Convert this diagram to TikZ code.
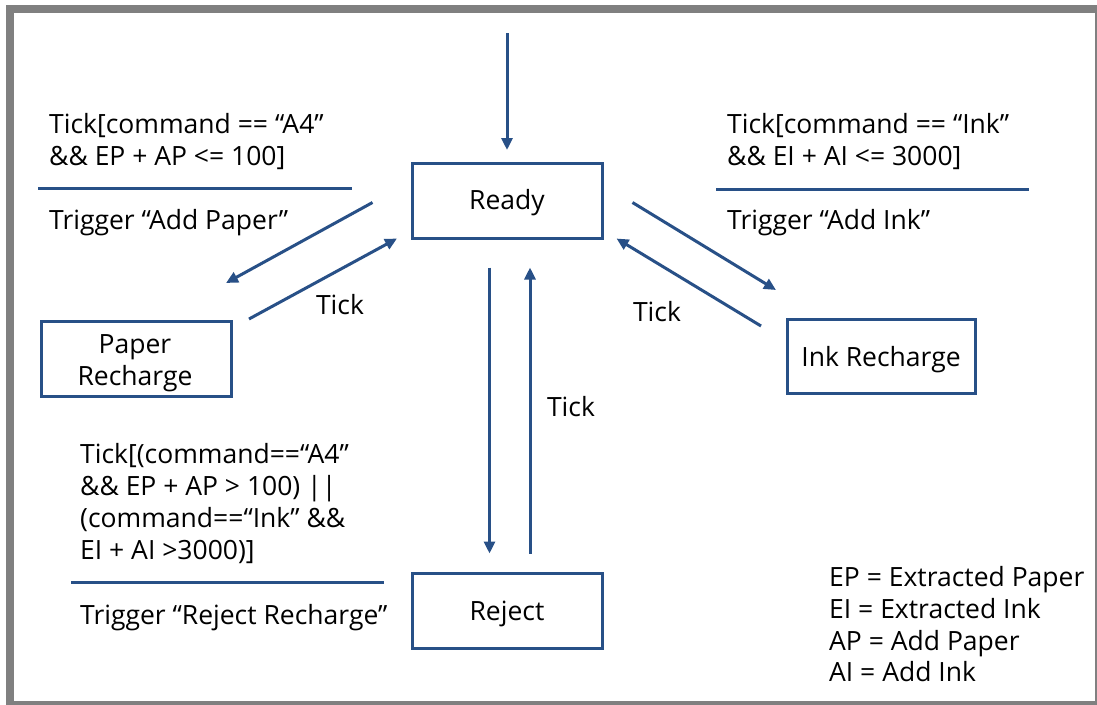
\documentclass[tikz,border=0pt]{standalone}
\usepackage{fontspec}
\setmainfont{Open Sans}
\usetikzlibrary{arrows.meta}
\definecolor{lineblue}{RGB}{40,80,135}
\definecolor{framegray}{RGB}{128,128,128}
\begin{document}
\begin{tikzpicture}[x=1pt,y=-1pt,
  every node/.style={font=\fontsize{26.5}{32}\selectfont},
  txt/.style={anchor=base west, inner sep=0pt},
  ctxt/.style={anchor=base, inner sep=0pt},
  state/.style={draw=lineblue, line width=3pt, minimum width=190pt, minimum height=75pt, inner sep=0pt},
  conn/.style={draw=lineblue, line width=3pt, -{Triangle[length=12pt,width=11pt]}},
  sep/.style={draw=lineblue, line width=3pt}]
\useasboundingbox (0,0) rectangle (1097,704);
\begin{scope}
\clip (0,0) rectangle (1097,704);
\fill[white] (0,0) rectangle (1097,704);
\draw[framegray, line width=8pt] (9.5,8.5) rectangle (1099,705);
\end{scope}

% states
\node[state] (ready) at (507,200.5) {};
\node[ctxt] at (507,209) {Ready};
\node[state, minimum width=190pt, minimum height=75pt] (paper) at (136,358.5) {};
\node[ctxt] (paperl1) at (135,353) {Paper};
\node[ctxt] (paperl2) at (135,385) {Recharge};
\node[state, minimum width=188pt, minimum height=74pt] (ink) at (881,356) {};
\node[ctxt] (inkl) at (881,366) {Ink Recharge};
\node[state] (reject) at (507,610.5) {};
\node[ctxt] (rejectl) at (507,620) {Reject};

% connector end points
\coordinate (init) at (507,33);
\coordinate (initE) at (507,150);
\coordinate (rpS) at (372.5,202.5);
\coordinate (rpE) at (226,283);
\coordinate (prS) at (249,319);
\coordinate (prE) at (397,238.5);
\coordinate (riS) at (632.5,202.5);
\coordinate (riE) at (776,290);
\coordinate (irS) at (761,326);
\coordinate (irE) at (616.5,238.5);
\coordinate (rjS) at (489.5,267.5);
\coordinate (rjE) at (489.5,553.5);
\coordinate (jrS) at (530,553.5);
\coordinate (jrE) at (530,267.5);

\draw[conn] (init) -- (initE);
\draw[conn] (rpS) -- (rpE);
\draw[conn] (prS) -- (prE);
\draw[conn] (riS) -- (riE);
\draw[conn] (irS) -- (irE);
\draw[conn] (rjS) -- (rjE);
\draw[conn] (jrS) -- (jrE);

% guard / action labels, top left
\node[txt] (g1a) at (49,133) {Tick[command == “A4”};
\node[txt] (g1b) at (49,165) {\&\& EP + AP <= 100]};
\coordinate (s1a) at (38,188);
\coordinate (s1b) at (352,188);
\draw[sep] (s1a) -- (s1b);
\node[txt] (a1) at (49,229) {Trigger “Add Paper”};

% top right
\node[txt] (g2a) at (727,133) {Tick[command == “Ink”};
\node[txt] (g2b) at (727,165) {\&\& EI + AI <= 3000]};
\coordinate (s2a) at (716,189);
\coordinate (s2b) at (1029,189);
\draw[sep] (s2a) -- (s2b);
\node[txt] (a2) at (727,229) {Trigger “Add Ink”};

% bottom left
\node[txt] (g3a) at (80,463) {Tick[(command==“A4”};
\node[txt] (g3b) at (80,495) {\&\& EP + AP > 100) ||};
\node[txt] (g3c) at (80,527) {(command==“Ink” \&\&};
\node[txt] (g3d) at (80,559) {EI + AI >3000)]};
\coordinate (s3a) at (71,582);
\coordinate (s3b) at (384,582);
\draw[sep] (s3a) -- (s3b);
\node[txt] (a3) at (80,624) {Trigger “Reject Recharge”};

% tick labels
\node[ctxt] (t1) at (340,314) {Tick};
\node[ctxt] (t2) at (657,321) {Tick};
\node[ctxt] (t3) at (571,416) {Tick};

% legend
\node[txt] (l1) at (829,586) {EP = Extracted Paper};
\node[txt] (l2) at (829,618) {EI = Extracted Ink};
\node[txt] (l3) at (829,650) {AP = Add Paper};
\node[txt] (l4) at (829,681) {AI = Add Ink};
\end{tikzpicture}
\end{document}
